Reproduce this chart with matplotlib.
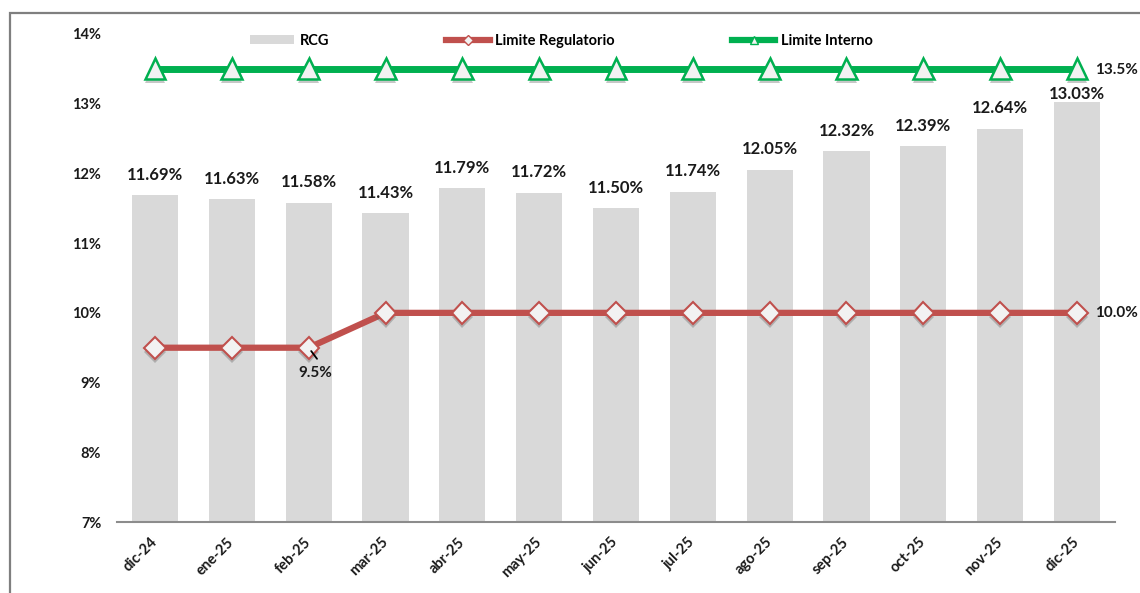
import matplotlib
matplotlib.use("Agg")
import matplotlib.pyplot as plt
import matplotlib.patheffects as pe
import matplotlib.transforms as mtransforms
from matplotlib.patches import Rectangle, Patch
from matplotlib.lines import Line2D

# Monthly capital ratio (RCG) against the regulatory and internal limits
months = ["dic-24", "ene-25", "feb-25", "mar-25", "abr-25", "may-25", "jun-25",
          "jul-25", "ago-25", "sep-25", "oct-25", "nov-25", "dic-25"]
rcg = [11.69, 11.63, 11.58, 11.43, 11.79, 11.72, 11.50, 11.74, 12.05, 12.32, 12.39, 12.64, 13.03]
limite_regulatorio = [9.5, 9.5, 9.5, 10.0, 10.0, 10.0, 10.0, 10.0, 10.0, 10.0, 10.0, 10.0, 10.0]
limite_interno = [13.5] * 13
y_ticks = [7, 8, 9, 10, 11, 12, 13, 14]

BAR_COLOR = "#D9D9D9"
RED = "#C0504D"
GREEN = "#00B050"
MARKER_FACE = "#F2F2F2"
TEXT = "#1A1A1A"
FONT = ["Lato", "DejaVu Sans"]

plt.rcParams["font.family"] = FONT

fig = plt.figure(figsize=(11.4, 5.93), dpi=100)
ax = fig.add_axes([0.1023, 0.1197, 0.8761, 0.8230])

x = list(range(len(months)))

ax.bar(x, rcg, width=0.6, color=BAR_COLOR, zorder=1)

shadow = [pe.SimplePatchShadow(offset=(0, -3), shadow_rgbFace="#606060", alpha=0.35), pe.Normal()]

# Internal limit
ax.plot(x, limite_interno, color=GREEN, lw=5, solid_capstyle="butt", zorder=3)
ax.plot(x, limite_interno, ls="none", marker="^", ms=15, mfc=MARKER_FACE, mec=GREEN,
        mew=1.8, zorder=4, path_effects=shadow)

# Regulatory limit
ax.plot(x, limite_regulatorio, color=RED, lw=4.5, solid_capstyle="butt", zorder=3)
ax.plot(x, limite_regulatorio, ls="none", marker="D", ms=11, mfc=MARKER_FACE, mec=RED,
        mew=1.5, zorder=4, path_effects=shadow)

# RCG value labels
for i, v in enumerate(rcg):
    dy = 0 if i == len(rcg) - 1 else 9
    ax.annotate(f"{v:.2f}%", (i, v), xytext=(0, dy), textcoords="offset points",
                ha="center", va="bottom", fontsize=12, fontweight="bold", color=TEXT,
                zorder=6)

# Limit labels
last = len(months) - 1
ax.annotate(f"{limite_interno[last]:.1f}%", (last, limite_interno[last]), xytext=(13, -1),
            textcoords="offset points", ha="left", va="center", fontsize=11,
            fontweight="bold", color=TEXT)
ax.annotate(f"{limite_regulatorio[last]:.1f}%", (last, limite_regulatorio[last]), xytext=(13, 0),
            textcoords="offset points", ha="left", va="center", fontsize=11,
            fontweight="bold", color=TEXT)
ax.annotate(f"{limite_regulatorio[2]:.1f}%", (2, limite_regulatorio[2]), xytext=(5, -18),
            textcoords="offset points", ha="center", va="center", fontsize=11,
            fontweight="bold", color=TEXT, zorder=6)
# short leader line under the feb-25 marker
ax.annotate("", xy=(2, limite_regulatorio[2]), xytext=(6, -8), textcoords="offset points",
            arrowprops=dict(arrowstyle="-", color="black", lw=1.3, shrinkA=0, shrinkB=3),
            zorder=6)

ax.set_xlim(-0.5, len(months) - 0.5)
ax.set_ylim(7, 14)
ax.set_yticks(y_ticks)
ax.set_yticklabels([f"{t}%" for t in y_ticks])
ax.set_xticks(x)
ax.set_xticklabels(months, rotation=45, ha="right", va="center", rotation_mode="anchor")

label_shift = mtransforms.ScaledTranslation(5 / 100, 0, fig.dpi_scale_trans)
for lbl in ax.get_xticklabels():
    lbl.set_transform(lbl.get_transform() + label_shift)

for lbl in ax.get_xticklabels() + ax.get_yticklabels():
    lbl.set_fontweight("bold")
    lbl.set_color(TEXT)
    lbl.set_fontsize(10.5)

ax.tick_params(axis="y", length=0, pad=11)
ax.tick_params(axis="x", length=0, pad=13)
for side in ("top", "right", "left"):
    ax.spines[side].set_visible(False)
ax.spines["bottom"].set_color("#8C8C8C")
ax.spines["bottom"].set_linewidth(1.5)

# Legend
handles = [
    Patch(facecolor=BAR_COLOR, edgecolor="none"),
    Line2D([], [], color=RED, lw=4.5, marker="D", ms=5, mfc=MARKER_FACE, mec=RED, mew=1),
    Line2D([], [], color=GREEN, lw=4.5, marker="^", ms=6, mfc=MARKER_FACE, mec=GREEN, mew=1),
]
fig.legend(handles, ["RCG", "Limite Regulatorio", "Limite Interno"], ncol=3,
           loc="center left", bbox_to_anchor=(250 / 1140, 1 - 41 / 593), frameon=False,
           prop={"weight": "bold", "size": 10.5}, handlelength=3.0,
           handleheight=0.55, handletextpad=0.4, columnspacing=8.0,
           borderpad=0, borderaxespad=0)

# Outer chart-area frame
fig.patches.append(Rectangle((10 / 1140, -0.1), 1.2, 1 - 13 / 593 + 0.1, transform=fig.transFigure,
                             fill=False, edgecolor="#7F7F7F", lw=1.6, zorder=0))

fig.savefig("out.png", dpi=100)
